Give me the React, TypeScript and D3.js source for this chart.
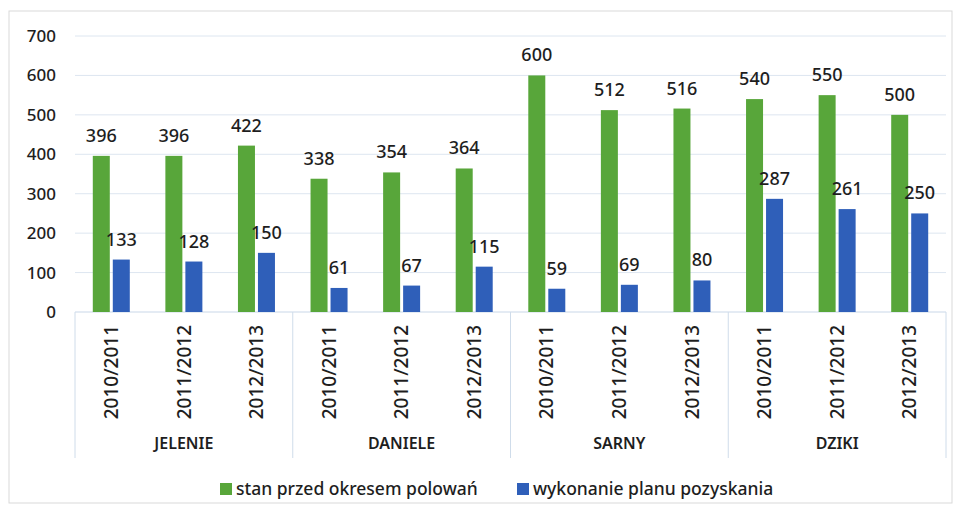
import React from "react";
import * as d3 from "d3";

const groups = ["JELENIE", "DANIELE", "SARNY", "DZIKI"];
const seasons = ["2010/2011", "2011/2012", "2012/2013"];
const stanPrzed = [396, 396, 422, 338, 354, 364, 600, 512, 516, 540, 550, 500];
const wykonanie = [133, 128, 150, 61, 67, 115, 59, 69, 80, 287, 261, 250];
const yTicks = [0, 100, 200, 300, 400, 500, 600, 700];
const seriesNames = ["stan przed okresem polowań", "wykonanie planu pozyskania"];
const seriesColors = ["#58a63a", "#2f5fb9"];

const W = 957;
const H = 513;
const plotLeft = 75;
const plotRight = 946;
const plotTop = 36;
const plotBottom = 312;
const font = "'Noto Sans', 'Open Sans', sans-serif";
const textColor = "#1e1e1e";

export default function App() {
  const slots = groups.flatMap((g) => seasons.map((s) => `${g}|${s}`));
  const x = d3.scaleBand<string>().domain(slots).range([plotLeft, plotRight]).padding(0);
  const y = d3.scaleLinear().domain([0, 700]).range([plotBottom, plotTop]);
  const sub = d3.scaleBand<number>().domain([0, 1]).paddingInner(0.15);
  const barGroupW = 37;
  const series = [stanPrzed, wykonanie];
  const gx = d3.scaleBand<string>().domain(groups).range([plotLeft, plotRight]).padding(0);

  return (
    <svg
      width={W}
      height={H}
      style={{ position: "absolute", left: 0, top: 0, background: "#fff" }}
      fontFamily={font}
    >
      <rect x={9} y={11} width={943} height={492} fill="#fff" stroke="#d9d9d9" strokeWidth={1} />
      {yTicks.map((t) => (
        <line
          key={`g${t}`}
          x1={plotLeft}
          x2={plotRight}
          y1={y(t)}
          y2={y(t)}
          stroke={t === 0 ? "#c9d7e8" : "#dde6f0"}
          strokeWidth={1}
        />
      ))}
      {yTicks.map((t) => (
        <text
          key={`yt${t}`}
          x={56}
          y={y(t)}
          dy="0.35em"
          textAnchor="end"
          fontSize={17}
          fontWeight={500}
          fill={textColor}
        >
          {t}
        </text>
      ))}
      {d3.range(groups.length + 1).map((i) => {
        const xx = i < groups.length ? gx(groups[i])! : plotRight;
        return (
          <line
            key={`sep${i}`}
            x1={xx}
            x2={xx}
            y1={plotBottom}
            y2={458}
            stroke="#cfdcea"
            strokeWidth={1}
          />
        );
      })}
      {slots.map((slot, i) => {
        const cx = x(slot)! + x.bandwidth() / 2;
        sub.range([cx - barGroupW / 2, cx + barGroupW / 2]);
        return series.map((vals, si) => {
          const bx = sub(si)!;
          const bw = sub.bandwidth();
          const v = vals[i];
          return (
            <g key={`b${i}-${si}`}>
              <rect x={bx} y={y(v)} width={bw} height={plotBottom - y(v)} fill={seriesColors[si]} />
              <text
                x={bx + bw / 2}
                y={y(v) - 14}
                textAnchor="middle"
                fontSize={18}
                fontWeight={500}
                fill={textColor}
              >
                {v}
              </text>
            </g>
          );
        });
      })}
      {slots.map((slot, i) => {
        const cx = x(slot)! + x.bandwidth() / 2;
        const season = seasons[i % seasons.length];
        return (
          <text
            key={`s${i}`}
            transform={`translate(${cx},${325}) rotate(-90)`}
            textAnchor="end"
            dy="0.35em"
            fontSize={19}
            fontWeight={500}
            fill={textColor}
          >
            {season}
          </text>
        );
      })}
      {groups.map((g) => (
        <text
          key={`gl${g}`}
          x={gx(g)! + gx.bandwidth() / 2}
          y={449}
          textAnchor="middle"
          fontSize={16}
          fontWeight={600}
          fill={textColor}
        >
          {g}
        </text>
      ))}
      {seriesNames.map((name, i) => {
        const lx = i === 0 ? 220 : 517;
        return (
          <g key={`lg${i}`}>
            <rect x={lx} y={483} width={12} height={12} fill={seriesColors[i]} />
            <text x={lx + 16} y={495} fontSize={17.5} fontWeight={500} fill={textColor}>
              {name}
            </text>
          </g>
        );
      })}
    </svg>
  );
}
